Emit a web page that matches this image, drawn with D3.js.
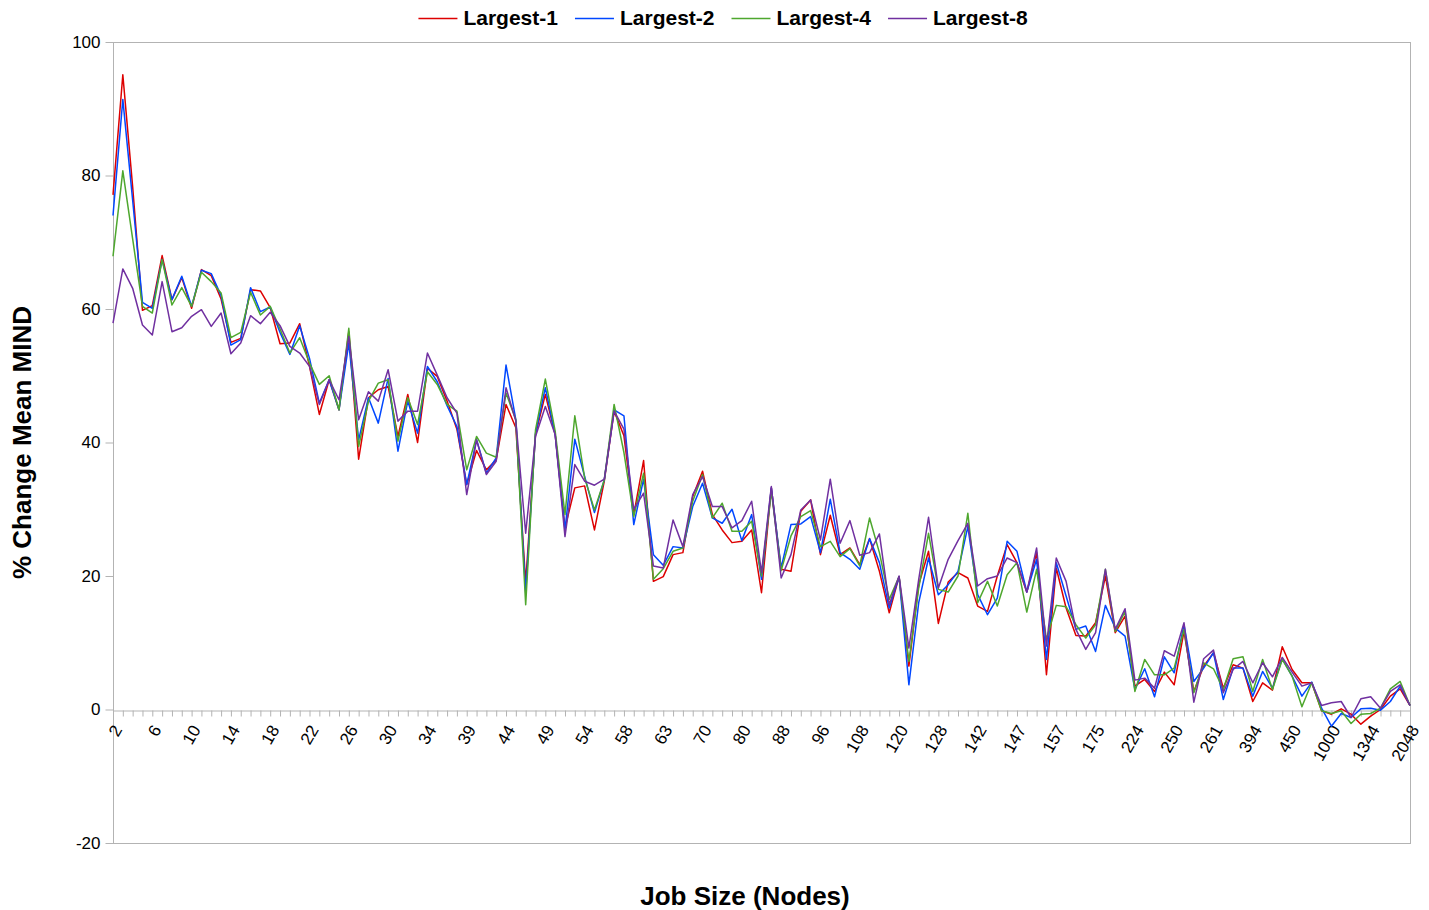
<!DOCTYPE html>
<html>
<head>
<meta charset="utf-8">
<script src="https://cdn.jsdelivr.net/npm/d3@7"></script>
<style>
  html, body { margin: 0; padding: 0; background: #fff; }
  svg { display: block; font-family: "Liberation Sans", Arial, sans-serif; }
</style>
</head>
<body>
<div id="chart"></div>
<script>
// Line chart: % change of mean MIND by job size, four "Largest-N" series

const categories = [
  "2","3","4","5","6","7","8","9","10","11","12","13","14","15","16","17",
  "18","19","20","21","22","23","24","25","26","27","28","29","30","31","32","33","34",
  "35","36","38","39", "40","42","43","44", "45","46","48","49", "50","51","52","54",
  "55","56","57","58", "59","60","62","63", "64","65","68","70", "72","75","77","80",
  "81","84","86","88", "90","92","94","96", "98","100","104","108", "110","112","116","120",
  "121","124","126","128", "130","132","136","142", "143","144","146","147", "148","150","152","157",
  "160","162","168","175", "180","192","200","224", "225","232","240","250", "252","255","256","261",
  "300","320","384","394", "400","416","432","450", "500","512","768","1000", "1024","1100","1200","1344",
  "1500","1536","2000","2048"
]

const largest1 = [
  77.1,95.1,78.3,59.8,60.5,68.0,61.4,64.7,60.1,65.9,
  65.0,61.5,55.0,55.6,62.9,62.7,60.2,54.8,54.9,57.8,
  51.4,44.2,49.4,44.9,56.6,37.5,46.7,47.9,48.4,40.9,
  47.2,40.0,51.1,49.9,46.2,42.0,33.7,38.8,35.9,37.4,
  45.7,42.2,19.0,41.2,47.2,41.2,27.2,33.2,33.5,26.9,
  34.2,44.7,41.0,29.2,37.3,19.2,19.9,23.2,23.5,31.9,
  35.7,29.2,26.9,25.0,25.2,26.9,17.5,33.2,21.0,20.7,
  29.7,31.4,23.2,29.1,23.2,24.2,21.7,25.6,20.7,14.5,
  19.9,6.5,18.7,23.7,12.9,19.1,20.5,19.7,15.5,14.7,
  20.0,24.7,22.0,17.6,23.5,5.2,21.2,15.2,11.1,11.0,
  13.0,20.0,11.5,14.0,3.5,4.5,2.7,5.6,3.7,11.7,
  2.7,6.5,8.5,3.2,6.7,6.2,1.2,4.0,2.9,9.4,
  6.0,4.0,4.0,-0.2,-0.7,0.1,-0.7,-2.2,-1.0,0.0,
  2.0,3.1,0.6
]
const largest2 = [
  74.0,91.4,76.3,61.0,60.1,67.4,61.4,64.9,60.4,65.8,
  65.3,62.0,54.6,55.4,63.2,59.6,60.3,56.5,53.2,57.5,
  52.6,45.9,49.4,44.9,54.9,40.4,46.7,42.9,49.6,38.7,
  46.2,41.4,51.4,49.1,45.5,42.4,33.7,40.4,35.4,37.7,
  51.6,43.4,17.5,41.4,48.2,41.2,26.9,40.5,34.9,29.5,
  34.4,44.9,44.0,27.7,34.5,23.2,21.6,24.4,24.2,30.4,
  33.9,28.7,27.9,30.0,25.3,29.2,19.5,33.2,21.2,27.7,
  27.8,28.9,23.5,31.5,23.5,22.5,21.0,25.6,22.0,15.2,
  19.9,3.7,16.0,22.7,17.2,18.7,20.7,27.4,17.2,14.2,
  16.7,25.2,23.7,17.6,22.5,7.5,22.0,17.0,12.0,12.5,
  8.7,15.6,12.2,11.0,3.0,6.1,1.9,7.9,5.5,12.7,
  4.2,6.2,8.5,1.5,6.2,6.2,2.0,5.7,3.2,7.6,
  5.0,2.0,4.1,0.2,-2.5,-0.6,-1.2,0.1,0.2,-0.1,
  1.2,3.5,0.6
]
const largest4 = [
  67.9,80.7,70.5,60.4,59.4,67.4,60.6,63.2,60.4,65.5,
  64.1,62.4,55.7,56.5,62.5,59.1,60.4,57.0,53.4,55.7,
  51.9,48.7,50.0,44.9,57.1,39.4,46.2,48.9,49.4,40.2,
  46.7,42.7,50.6,48.7,45.7,44.7,35.9,40.9,38.4,37.8,
  47.4,43.4,15.7,41.9,49.5,41.7,29.2,44.0,34.7,29.9,
  34.4,45.7,38.5,28.9,35.4,19.5,21.1,23.7,24.2,31.2,
  35.2,28.7,30.9,26.7,26.7,28.2,20.0,32.7,20.8,26.0,
  28.9,29.8,24.4,25.2,22.9,24.1,21.5,28.7,23.5,16.5,
  19.9,7.2,18.2,26.4,18.0,17.6,20.0,29.4,16.0,19.2,
  15.5,20.2,22.0,14.6,21.0,10.5,15.6,15.4,12.7,10.7,
  12.7,21.0,11.7,14.7,2.7,7.5,5.2,5.2,6.2,12.0,
  2.5,7.0,6.1,3.0,7.6,7.9,2.7,7.5,3.0,7.5,
  5.0,0.4,4.0,-0.2,-0.6,-0.2,-2.1,-0.7,-0.6,0.2,
  3.1,4.2,0.6
]
const largest8 = [
  57.9,66.0,63.1,57.6,56.1,64.1,56.6,57.2,58.9,59.9,
  57.4,59.4,53.3,54.9,59.0,57.8,59.5,57.5,54.4,53.4,
  51.4,45.7,49.4,46.4,55.9,43.4,47.6,46.2,50.9,43.2,
  44.7,44.7,53.4,50.1,46.7,44.4,32.2,40.4,35.2,37.2,
  48.2,43.2,26.4,40.9,45.4,41.2,25.9,36.7,34.2,33.6,
  34.5,44.7,42.0,30.0,32.4,21.5,21.2,28.4,24.4,32.2,
  34.9,30.4,30.4,27.2,28.3,31.2,20.5,33.4,19.7,23.2,
  29.9,31.4,25.4,34.5,24.9,28.3,23.1,23.5,26.3,15.7,
  20.0,9.2,19.5,28.8,18.2,22.5,25.3,27.9,18.5,19.6,
  20.0,22.7,22.0,17.6,24.2,9.5,22.7,19.2,12.0,9.0,
  11.5,21.0,12.0,15.1,4.4,4.7,3.2,8.8,8.0,13.0,
  1.1,7.6,8.9,2.5,6.0,7.2,4.0,7.0,4.9,7.8,
  5.6,3.5,4.0,0.6,1.0,1.2,-1.2,1.6,1.9,0.2,
  2.7,3.7,0.6
]

const seriesNames = ["Largest-1", "Largest-2", "Largest-4", "Largest-8"]
const seriesColors = ["#dd0000", "#0047ff", "#4ea72e", "#7030a0"]
const yTicks = [-20, 0, 20, 40, 60, 80, 100]

const WIDTH = 1429
const HEIGHT = 910
const PLOT = { LEFT: 113, RIGHT: 1410, TOP: 42, BOTTOM: 843 }
const GREY = "#b3b3b3"

const svg = d3.select("#chart")
  .append("svg")
  .attr("width", WIDTH)
  .attr("height", HEIGHT)

const x = d3.scalePoint()
  .domain(categories)
  .range([PLOT.LEFT, PLOT.RIGHT])
  .padding(0)

const y = d3.scaleLinear()
  .domain([-20, 100])
  .range([PLOT.BOTTOM, PLOT.TOP])

// plot frame
svg.append("rect")
  .attr("x", PLOT.LEFT + 0.5)
  .attr("y", PLOT.TOP + 0.5)
  .attr("width", PLOT.RIGHT - PLOT.LEFT)
  .attr("height", PLOT.BOTTOM - PLOT.TOP)
  .attr("fill", "none")
  .attr("stroke", GREY)

// y axis (plain hyphen for negatives, like the original)
const yAxis = svg.append("g")
  .attr("transform", `translate(${PLOT.LEFT + 0.5},0)`)
  .call(d3.axisLeft(y)
    .tickValues(yTicks)
    .tickFormat(d => String(d))
    .tickSize(8)
    .tickPadding(5))
yAxis.select(".domain").remove()
yAxis.selectAll("line").attr("stroke", GREY)
yAxis.selectAll("text")
  .attr("fill", "#000")
  .style("font-size", "17px")
  .style("font-family", "'Liberation Sans', Arial, sans-serif")

// x axis on the zero line, every 4th label shown
const xAxis = svg.append("g")
  .attr("transform", `translate(0,${Math.round(y(0)) + 0.5})`)
  .call(d3.axisBottom(x)
    .tickSize(6)
    .tickSizeOuter(0)
    .tickFormat((d, i) => (i % 4 === 0 ? d : "")))
xAxis.select(".domain").attr("stroke", GREY)
xAxis.selectAll("line").attr("stroke", GREY)
xAxis.selectAll("text")
  .attr("fill", "#000")
  .attr("x", 0)
  .attr("y", 0)
  .attr("dy", "0.35em")
  .attr("text-anchor", "end")
  .attr("transform", "translate(4,16) rotate(-60)")
  .style("font-size", "17px")
  .style("font-family", "'Liberation Sans', Arial, sans-serif")

// series lines
const allSeries = [largest1, largest2, largest4, largest8]
const line = d3.line()
  .x((d, i) => x(categories[i]))
  .y(d => y(d))

svg.append("g")
  .selectAll("path")
  .data(allSeries)
  .enter()
  .append("path")
    .attr("d", d => line(d))
    .attr("fill", "none")
    .attr("stroke", (d, i) => seriesColors[i])
    .attr("stroke-width", 1.5)
    .attr("stroke-linejoin", "round")

// axis titles
svg.append("text")
  .attr("transform", `translate(22,${(PLOT.TOP + PLOT.BOTTOM) / 2}) rotate(-90)`)
  .attr("text-anchor", "middle")
  .attr("dominant-baseline", "central")
  .style("font-size", "26px")
  .style("font-weight", "bold")
  .text("% Change Mean MIND")

svg.append("text")
  .attr("x", 745)
  .attr("y", 905)
  .attr("text-anchor", "middle")
  .style("font-size", "26px")
  .style("font-weight", "bold")
  .text("Job Size (Nodes)")

// legend across the top
const legend = svg.append("g")
const items = legend.selectAll("g")
  .data(seriesNames)
  .enter()
  .append("g")
items.append("line")
  .attr("x1", 0).attr("x2", 39)
  .attr("y1", 18.5).attr("y2", 18.5)
  .attr("stroke", (d, i) => seriesColors[i])
  .attr("stroke-width", 1.5)
items.append("text")
  .attr("x", 45)
  .attr("y", 18)
  .attr("dy", "0.35em")
  .style("font-size", "21px")
  .style("font-weight", "bold")
  .text(d => d)

const itemWidths = []
items.each(function() {
  itemWidths.push(45 + this.querySelector("text").getComputedTextLength())
})
const GAP = 17
const totalW = d3.sum(itemWidths) + GAP * (itemWidths.length - 1)
let offset = 723 - totalW / 2
items.attr("transform", (d, i) => {
  const tx = offset
  offset += itemWidths[i] + GAP
  return `translate(${tx},0)`
})
</script>
</body>
</html>
